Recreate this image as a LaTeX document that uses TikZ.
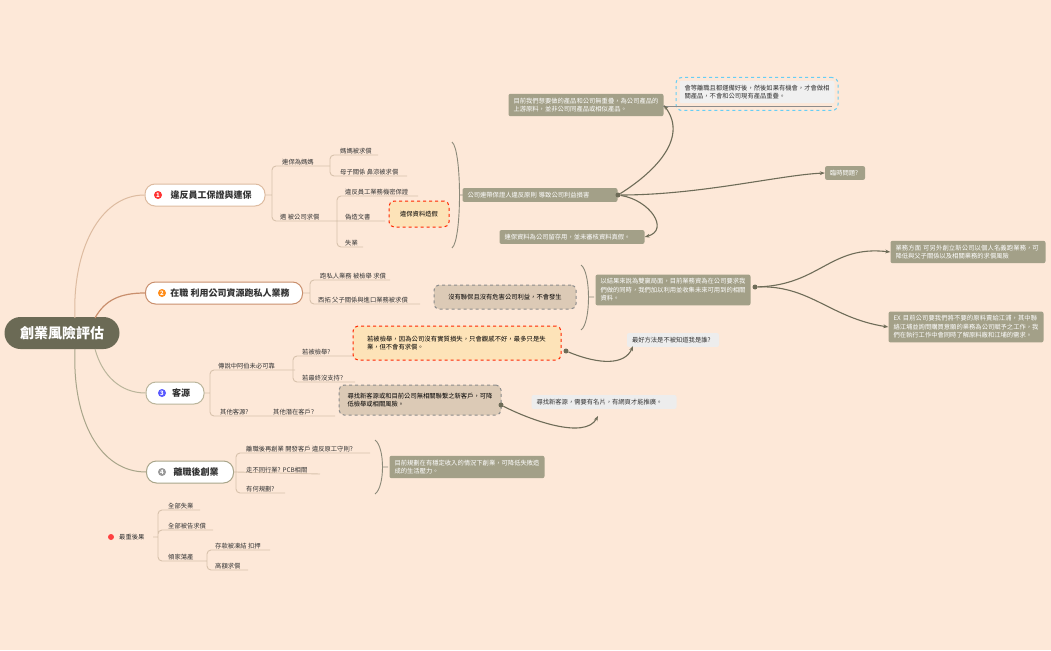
\documentclass[tikz,border=0pt]{standalone}
\usepackage{fontspec}
\setmainfont{Noto Sans CJK TC}
\XeTeXlinebreaklocale "zh"
\XeTeXlinebreakskip=0pt plus 1pt
\usetikzlibrary{arrows.meta}
\definecolor{bg}{HTML}{FDE8D8}
\definecolor{rootc}{HTML}{6B6A55}
\definecolor{sg}{HTML}{A3A088}
\definecolor{ln}{HTML}{D8C2AC}
\definecolor{cA}{HTML}{DDBBA0}
\definecolor{cB}{HTML}{C98F6D}
\definecolor{cC}{HTML}{BAB59B}
\definecolor{cD}{HTML}{A8A58A}
\definecolor{arr}{HTML}{6E6C58}
\definecolor{orgf}{HTML}{FDE3B8}
\definecolor{tanf}{HTML}{DCCAB6}
\begin{document}
\begin{tikzpicture}[x=1pt,y=-1pt,
  every node/.style={inner sep=0pt},
  sm/.style={font=\fontsize{6.3}{8}\selectfont, text=black!80, anchor=south west},
  ul/.style={draw=ln, line width=0.9pt},
  topic/.style={draw=#1, line width=1pt, fill=white, rounded corners=10pt, minimum height=22pt, inner xsep=8pt, font=\fontsize{9}{10}\bfseries\selectfont, text=black!80},
  sumn/.style={fill=sg, rounded corners=2pt, text=white, font=\fontsize{6.3}{8.5}\selectfont, align=left, inner xsep=5pt, inner ysep=4pt, text width=#1},
  greyn/.style={fill=black!7, rounded corners=2pt, text=black!80, font=\fontsize{6.3}{8.5}\selectfont, align=left, inner xsep=5pt, inner ysep=4pt, text width=#1},
  dbox/.style={draw=#1, dashed, line width=1pt, rounded corners=5pt, font=\fontsize{6.3}{8.5}\selectfont, align=left, inner xsep=6pt, inner ysep=5pt},
  arw/.style={draw=arr, line width=1.1pt, -{Stealth[length=5pt]}},
  dot/.style={circle, fill=arr, minimum size=5pt},
  brace/.style={draw=arr!80, line width=0.9pt},
  badge/.style={circle, fill=#1, text=white, minimum size=8pt, font=\fontsize{6}{6}\bfseries\selectfont}
]
\fill[bg] (0,0) rectangle (1051,650);
\useasboundingbox (0,0) rectangle (1051,650);

% root
\node[fill=rootc, text=white, rounded corners=16pt, minimum width=115pt, minimum height=32pt, font=\fontsize{14}{16}\bfseries\selectfont] (root) at (62,333) {創業風險評估};

% topics
\node[topic=cA, minimum width=120pt] (b1) at (205,195) {\hspace{12pt}違反員工保證與連保};
\node[badge={red!80}] at (158,195) {1};
\node[topic=cB, minimum width=157pt] (b2) at (224,293) {\hspace{12pt}在職 利用公司資源跑私人業務};
\node[badge={orange!90}] at (162,293) {2};
\node[topic=cC, minimum width=58pt] (b3) at (175,393) {\hspace{12pt}客源};
\node[badge={blue!65}] at (162,393) {3};
\node[topic=cD, minimum width=87pt] (b4) at (190,472) {\hspace{12pt}離職後創業};
\node[badge={black!40}] at (162,472) {4};

\draw[cA, line width=1pt] (75,318) .. controls (72,250) and (100,195) .. (b1.west);
\draw[cB, line width=1.2pt] (95,318) .. controls (105,300) and (120,293) .. (b2.west);
\draw[cC, line width=1pt] (95,349) .. controls (102,375) and (120,393) .. (b3.west);
\draw[cD, line width=1pt] (75,349) .. controls (72,420) and (100,472) .. (b4.west);

% ---- branch 1
\draw[ul,rounded corners=4pt] (b1.east) -- (272,195) (272,195) |- (330,166) (272,195) |- (335,221);
\node[sm] (t11) at (282,165) {連保為媽媽};
\draw[ul,rounded corners=4pt] (330,166) |- (378,155) (330,166) |- (407,176);
\node[sm] (t111) at (340,154) {媽媽被求償};
\node[sm] (t112) at (340,175) {母子關係 鼻涼被求償};
\node[sm] (t12) at (280,220) {遇 被公司求償};
\draw[ul,rounded corners=4pt] (335,221) -- (337,221) (337,221) |- (418,196) (337,221) -- (385,221) (337,221) |- (363,247);
\node[sm] (t121) at (345,195) {違反員工業務機密保證};
\node[sm] (t122) at (345,220) {偽造文書};
\node[sm] (t123) at (345,246) {失業};
\node[dbox={red!70!orange}, fill=orgf, minimum width=60pt, minimum height=26pt, font=\fontsize{6.3}{8}\selectfont] (f1) at (419,214) {違保資料造假};
\draw[brace] (452,142) .. controls (462,150) and (462,240) .. (452,248) (459,195) -- (465,195);

\node[sumn=145pt] (s1) at (540,195) {公司連帶保證人違反原則 導致公司利益損害};
\node[dot] (d1) at (618,195) {};
\node[sumn=145pt] (n1a) at (586,105) {目前我們想要做的產品和公司無重疊，為公司產品的上游原料，並非公司同產品或相似產品。};
\node[sumn=30pt] (n1b) at (845,173) {臨時問題?};
\node[sumn=135pt] (n1c) at (572,237) {連保資料為公司留存用，並未審核資料真假。};
\node[draw=cyan!60, dashed, line width=1pt, rounded corners=6pt, minimum width=162pt, minimum height=33pt] (n1d) at (757,94) {};
\node[greyn=145pt, fill=black!6] (n1dt) at (757,92) {會等離職且都運備好後，然後如果有機會，才會做相關產品，不會和公司現有產品重疊。};
\draw[draw=black!45, line width=0.8pt] (663,106) -- (832,106);
\draw[arw] (d1) .. controls (650,175) and (690,140) .. (n1a.east);
\draw[arw] (d1) .. controls (700,195) and (780,175) .. (n1b.west);
\draw[arw] (d1) .. controls (650,200) and (670,230) .. (n1c.east);

% ---- branch 2
\draw[ul,rounded corners=4pt] (b2.east) -- (310,293) (310,293) |- (390,280) (310,293) |- (420,304);
\node[sm] (t21) at (320,279) {跑私人業務 被檢舉 求償};
\node[sm] (t22) at (318,303) {西拓 父子關係與進口業務被求償};
\node[dbox=black!45, fill=tanf, minimum width=142pt, minimum height=24pt] (f2) at (505,297) {沒有聯保且沒有危害公司利益，不會發生};
\draw[brace] (581,265) .. controls (591,272) and (591,323) .. (581,330) (588,297) -- (594,297);
\node[sumn=145pt] (s2) at (673,290) {以結果來說為雙贏局面，目前業務資為在公司要求我們做的同時，我們加以利用並收集未來可用到的相關資料。};
\node[dot] (d2) at (755,287) {};
\node[sumn=145pt] (n2a) at (968,252) {業務方面 可另外創立新公司以個人名義跑業務，可降低與父子關係以及相關業務的求償風險};
\node[sumn=145pt] (n2b) at (966,327) {EX 目前公司要我們將不要的原料賣給江浦，其中聯絡江埔並詢問購買意願的業務為公司賦予之工作，我們在執行工作中會同時了解原料廠和江埔的需求。};
\draw[arw] (d2) .. controls (820,285) and (830,245) .. (n2a.west);
\draw[arw] (d2) .. controls (810,285) and (830,318) .. (n2b.west);

% ---- branch 3
\draw[ul,rounded corners=4pt] (b3.east) -- (210,393) (210,393) |- (295,370) (210,393) |- (260,416) -- (335,416);
\node[sm] (t31) at (218,369) {傳說中阿伯未必可靠};
\draw[ul,rounded corners=4pt] (293,370) |- (355,356) (293,370) |- (355,382);
\node[sm] (t311) at (302,355) {若被檢舉?};
\node[sm] (t312) at (302,381) {若最終沒支持?};
\node[sm] (t32) at (220,415) {其他客源?};
\node[sm] (t321) at (273,415) {其他潛在客戶?};
\node[dbox={red!70!orange}, fill=orgf, minimum width=208pt, minimum height=34pt, text width=180pt] (f3) at (457,343) {若被檢舉，因為公司沒有實質損失，只會觀感不好，最多只是失業，但不會有求償。};
\node[dot] (d3) at (566,351) {};
\node[greyn=82pt] (n3a) at (673,340) {最好方法是不被知道我是誰?};
\draw[arw] (d3) .. controls (600,365) and (625,365) .. (633,346);
\node[dbox=black!45, fill=tanf, minimum width=162pt, minimum height=30pt, text width=145pt] (f4) at (420,400) {尋找新客源或和目前公司無相關聯繫之新客戶，可降低檢舉或相關風險。};
\node[dot] (d4) at (501,405) {};
\node[greyn=135pt] (n4a) at (604,402) {尋找新客源，需要有名片，有網頁才能推廣。};
\draw[arw] (d4) .. controls (530,420) and (585,440) .. (598,416);

% ---- branch 4
\draw[ul,rounded corners=4pt] (b4.east) -- (236,472) (236,472) |- (370,453) (236,472) -- (320,474) (236,472) |- (285,493);
\node[sm] (t41) at (246,452) {離職後再創業 開發客戶 違反原工守則?};
\node[sm] (t42) at (246,473) {走不同行業? PCB相關};
\node[sm] (t43) at (246,492) {有何規劃?};
\draw[brace] (375,440) .. controls (385,447) and (385,487) .. (375,494) (382,467) -- (388,467);
\node[sumn=145pt] (s4) at (467,467) {目前規劃在有穩定收入的情況下創業，可降低失敗造成的生活壓力。};

% ---- floating
\node[circle, fill=red!75, minimum size=6pt] (fd) at (111,537) {};
\node[font=\fontsize{6.3}{8}\selectfont, text=black!80, anchor=west] (ft) at (119,537) {最重後果};
\draw[ul,rounded corners=4pt] (153,537) -- (158,537) (158,537) |- (200,510) (158,537) |- (213,530) (158,537) |- (205,561);
\node[sm] (f01) at (168,509) {全部失業};
\node[sm] (f02) at (168,529) {全部被告求償};
\node[sm] (f03) at (168,560) {傾家蕩產};
\draw[ul,rounded corners=4pt] (205,561) -- (207,561) (207,561) |- (270,550) (207,561) |- (248,570);
\node[sm] (f031) at (215,549) {存款被凍結 扣押};
\node[sm] (f032) at (215,569) {高額求償};
\end{tikzpicture}
\end{document}
